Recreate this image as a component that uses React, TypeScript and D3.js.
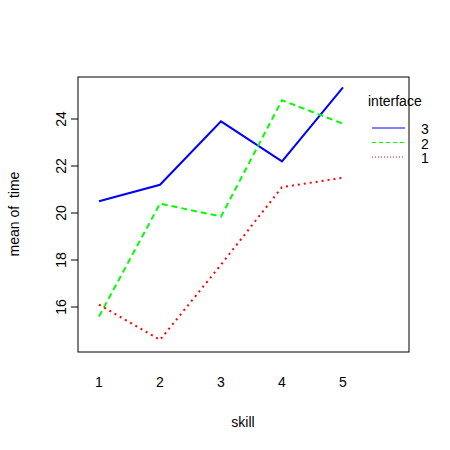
import * as d3 from 'd3';

const skills = [1, 2, 3, 4, 5];
const levels = ['3', '2', '1'];
const colors = ['#0000ff', '#00ff00', '#ff0000'];
const dashes = ['none', '6,4', '2,4'];
const series = [
  [20.5, 21.2, 23.9, 22.2, 25.35],
  [15.6, 20.4, 19.85, 24.8, 23.8],
  [16.1, 14.6, 17.8, 21.1, 21.5],
];
const yTicks = [16, 18, 20, 22, 24];

export default function App() {
  const left = 78, right = 409, top = 77, bottom = 352;
  const x = d3.scaleLinear().domain([1, 5]).range([99, 343]);
  const y = d3.scaleLinear().domain([16, 24]).range([307, 119]);
  const line = d3.line<number>().x((_, i) => x(skills[i])).y((d) => y(d));
  const font = 'Arial, "Liberation Sans", sans-serif';
  return (
    <svg width={450} height={450} style={{ position: 'absolute', left: 0, top: 0 }} fontFamily={font}>
      <rect width={450} height={450} fill="white" />
      <rect x={left} y={top} width={right - left} height={bottom - top} fill="none" stroke="black" />
      {yTicks.map((t) => (
        <g key={t}>
          <line x1={left - 7} x2={left} y1={y(t)} y2={y(t)} stroke="black" />
          <text transform={`translate(${left - 12},${y(t)}) rotate(-90)`} textAnchor="middle" fontSize={14}>{t}</text>
        </g>
      ))}
      {skills.map((s) => (
        <text key={s} x={x(s)} y={387} textAnchor="middle" fontSize={14}>{s}</text>
      ))}
      <text x={243} y={427} textAnchor="middle" fontSize={14}>skill</text>
      <text transform="translate(19,214) rotate(-90)" textAnchor="middle" fontSize={14} style={{ whiteSpace: 'pre' }}>mean of  time</text>
      {series.map((s, i) => (
        <path key={i} d={line(s) || ''} fill="none" stroke={colors[i]} strokeWidth={2} strokeDasharray={dashes[i]} />
      ))}
      <text x={368} y={106} fontSize={14}>interface</text>
      {levels.map((l, i) => (
        <g key={l}>
          <line x1={372} x2={405} y1={128 + i * 14.5} y2={128 + i * 14.5} stroke={colors[i]} strokeDasharray={dashes[i] === 'none' ? 'none' : dashes[i] === '6,4' ? '4,3' : '1,2'} />
          <text x={421} y={134 + i * 14.5} fontSize={14}>{l}</text>
        </g>
      ))}
    </svg>
  );
}
